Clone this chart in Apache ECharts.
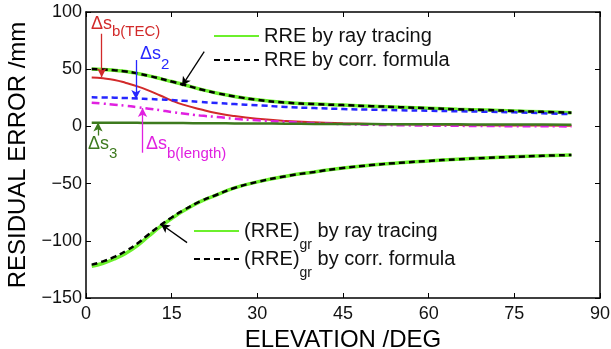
<!DOCTYPE html>
<html>
<head>
<meta charset="utf-8">
<script src="https://cdn.jsdelivr.net/npm/echarts@6.0.0/dist/echarts.min.js"></script>
<style>
  html, body { margin: 0; padding: 0; background: #fff; }
  #main { width: 611px; height: 349px; }
</style>
</head>
<body>
<div id="main"></div>
<script>
// elevation angles (deg) where the curves were read
var elev = [1, 3, 5, 7, 9, 11, 13, 15, 17, 20, 23, 26, 30, 35, 40, 45, 50, 55, 60, 65, 70, 75, 80, 85];

var rreRay   = [50.2, 49.8, 49.0, 48.0, 46.3, 44.2, 41.8, 39.2, 36.6, 32.5, 29.0, 26.2, 23.2, 20.8, 19.5, 18.6, 17.7, 16.8, 15.9, 15.0, 14.3, 13.5, 12.7, 12.0];
var rreCorr  = [50.2, 49.8, 49.0, 48.0, 46.3, 44.2, 41.8, 39.2, 36.6, 32.5, 29.0, 26.2, 23.2, 20.8, 19.5, 18.6, 17.7, 16.8, 15.9, 15.0, 14.3, 13.5, 12.7, 12.0];
var dsTEC    = [42.8, 42.0, 40.6, 38.0, 35.0, 31.3, 27.0, 22.6, 19.0, 15.0, 11.5, 9.0, 6.7, 4.8, 3.6, 2.8, 2.2, 1.8, 1.5, 1.2, 1.0, 0.8, 0.7, 0.6];
var ds2      = [25.4, 25.3, 25.1, 24.8, 24.4, 24.0, 23.5, 23.0, 22.4, 21.4, 20.4, 19.5, 18.5, 17.0, 16.0, 15.2, 14.6, 14.1, 13.7, 13.2, 12.8, 12.3, 11.5, 10.6];
var dsLength = [20.7, 19.9, 19.0, 18.0, 16.8, 15.5, 14.1, 12.6, 11.3, 9.5, 8.2, 6.7, 5.3, 3.9, 2.8, 2.0, 1.4, 1.0, 0.7, 0.5, 0.3, 0.2, 0.1, 0.0];
var ds3      = [3.2, 3.2, 3.2, 3.1, 3.1, 3.0, 3.0, 2.9, 2.9, 2.8, 2.7, 2.6, 2.5, 2.4, 2.2, 2.1, 2.0, 1.9, 1.8, 1.8, 1.7, 1.6, 1.6, 1.5];
var grRay    = [-122.2, -119.6, -115.8, -110.8, -104.2, -95.8, -87.7, -80.5, -74.0, -65.8, -59.6, -53.8, -48.5, -43.5, -39.8, -36.4, -33.8, -31.8, -30.2, -28.8, -27.6, -26.6, -25.7, -25.0];
var grCorr   = [-120.8, -118.0, -114.0, -108.8, -102.3, -94.2, -86.5, -79.6, -73.4, -65.6, -59.5, -53.8, -48.5, -43.5, -39.8, -36.4, -33.8, -31.8, -30.2, -28.8, -27.6, -26.6, -25.7, -25.0];

var xTicks = { min: 0, max: 90, step: 15 };
var yTicks = { min: -150, max: 100, step: 50 };

function pairs(ys) {
  return elev.map(function (x, i) { return [x, ys[i]]; });
}

var FONT = 'Liberation Sans, Arial, Helvetica, sans-serif';
var LIME = '#6cf02c';

function arrow(color, from, to) {
  return {
    silent: true,
    symbol: ['none', 'arrow'],
    symbolSize: [7, 9],
    label: { show: false },
    lineStyle: { color: color, width: 1.3, type: 'solid' },
    animation: false,
    data: [[{ coord: from }, { coord: to }]]
  };
}

function minus(v) { return v < 0 ? '\u2212' + (-v) : String(v); }

function frameAxis(extra) {
  var a = {
    type: 'value',
    axisLine: { show: true, onZero: false, lineStyle: { color: '#000', width: 1.5 } },
    axisTick: { show: true, inside: true, length: 5, lineStyle: { color: '#000' } },
    splitLine: { show: false }
  };
  for (var k in extra) a[k] = extra[k];
  return a;
}

var myChart = echarts.init(document.getElementById('main'));
var option = {
  backgroundColor: '#fff',
  animation: false,
  grid: { left: 86, right: 11, top: 12, bottom: 51, outerBoundsMode: 'none' },
  legend: [{
    left: 208, top: 21,
    orient: 'vertical',
    itemWidth: 45, itemHeight: 14, itemGap: 4,
    selectedMode: false,
    itemStyle: { opacity: 0 },
    textStyle: { fontFamily: FONT, fontSize: 20, lineHeight: 20, color: '#111' },
    data: ['RRE by ray tracing', 'RRE by corr. formula']
  }, {
    left: 188, top: 205,
    orient: 'vertical',
    itemWidth: 45, itemHeight: 14, itemGap: -14,
    selectedMode: false,
    itemStyle: { opacity: 0 },
    formatter: function (name) { return name.replace('(RRE)gr', '(RRE){sub|gr}'); },
    textStyle: {
      fontFamily: FONT, fontSize: 20, lineHeight: 20, color: '#111',
      rich: { sub: { fontFamily: FONT, fontSize: 14, lineHeight: 20, padding: [28, 0, 0, 0], color: '#111' } }
    },
    data: ['(RRE)gr by ray tracing', '(RRE)gr by corr. formula']
  }],
  xAxis: [
    frameAxis({
      min: xTicks.min, max: xTicks.max, interval: xTicks.step,
      name: 'ELEVATION /DEG', nameLocation: 'middle', nameGap: 18,
      nameTextStyle: { fontFamily: FONT, fontSize: 24, color: '#000' },
      axisLabel: { fontFamily: FONT, fontSize: 18, color: '#111', margin: 7 }
    }),
    frameAxis({
      position: 'top', min: xTicks.min, max: xTicks.max, interval: xTicks.step,
      axisLabel: { show: false }
    })
  ],
  yAxis: [
    frameAxis({
      min: yTicks.min, max: yTicks.max, interval: yTicks.step,
      name: 'RESIDUAL ERROR /mm', nameLocation: 'middle', nameGap: 47,
      nameTextStyle: { fontFamily: FONT, fontSize: 24, color: '#000' },
      axisLabel: { fontFamily: FONT, fontSize: 18, color: '#111', margin: 4, formatter: minus }
    }),
    frameAxis({
      position: 'right', min: yTicks.min, max: yTicks.max, interval: yTicks.step,
      axisLabel: { show: false }
    })
  ],
  series: [
    {
      name: 'RRE by ray tracing', type: 'line', smooth: true, symbol: 'none',
      lineStyle: { color: LIME, width: 3.5 }, itemStyle: { color: LIME },
      data: pairs(rreRay), z: 2
    },
    {
      name: 'RRE by corr. formula', type: 'line', smooth: true, symbol: 'none',
      lineStyle: { color: '#000', width: 2.5, type: [6, 4] }, itemStyle: { color: '#000' },
      data: pairs(rreCorr), z: 3,
      markLine: arrow('#000', [20.7, 65.3], [16.8, 35.5])
    },
    {
      name: 'Δs b(TEC)', type: 'line', smooth: true, symbol: 'none',
      lineStyle: { color: '#d22a2a', width: 2 },
      data: pairs(dsTEC), z: 2,
      markLine: arrow('#d22a2a', [2.75, 81], [2.75, 43])
    },
    {
      name: 'Δs 2', type: 'line', smooth: true, symbol: 'none',
      lineStyle: { color: '#2626ff', width: 2.5, type: [6, 4] },
      data: pairs(ds2), z: 2,
      markLine: arrow('#2626ff', [8.75, 58], [8.75, 24])
    },
    {
      name: 'Δs b(length)', type: 'line', smooth: true, symbol: 'none',
      lineStyle: { color: '#e020e0', width: 2.5, type: [8, 4, 2, 4] },
      data: pairs(dsLength), z: 2,
      markLine: arrow('#e020e0', [9.9, -23], [9.9, 16])
    },
    {
      name: 'Δs 3', type: 'line', smooth: true, symbol: 'none',
      lineStyle: { color: '#3d7a1e', width: 2.5 },
      data: pairs(ds3), z: 2,
      markLine: arrow('#3d7a1e', [2.1, -8], [2.1, 3.5])
    },
    {
      name: '(RRE)gr by ray tracing', type: 'line', smooth: true, symbol: 'none',
      lineStyle: { color: LIME, width: 3.5 }, itemStyle: { color: LIME },
      data: pairs(grRay), z: 2
    },
    {
      name: '(RRE)gr by corr. formula', type: 'line', smooth: true, symbol: 'none',
      lineStyle: { color: '#000', width: 2.5, type: [6, 4] }, itemStyle: { color: '#000' },
      data: pairs(grCorr), z: 3,
      markLine: arrow('#000', [17.7, -101.6], [13.1, -85.3])
    }
  ],
  graphic: [
    {
      type: 'text', x: 91, y: 24,
      style: {
        text: '{m|Δs}{s|b(TEC)}', verticalAlign: 'middle', fill: '#d22a2a',
        rich: {
          m: { fontFamily: FONT, fontSize: 18, lineHeight: 18, fill: '#d22a2a' },
          s: { fontFamily: FONT, fontSize: 15, lineHeight: 18, padding: [16, 0, 0, 0], fill: '#d22a2a' }
        }
      }
    },
    {
      type: 'text', x: 140, y: 54,
      style: {
        text: '{m|Δs}{s|2}', verticalAlign: 'middle', fill: '#2626ff',
        rich: {
          m: { fontFamily: FONT, fontSize: 18, lineHeight: 18, fill: '#2626ff' },
          s: { fontFamily: FONT, fontSize: 15, lineHeight: 18, padding: [22, 0, 0, 0], fill: '#2626ff' }
        }
      }
    },
    {
      type: 'text', x: 88, y: 144,
      style: {
        text: '{m|Δs}{s|3}', verticalAlign: 'middle', fill: '#3d7a1e',
        rich: {
          m: { fontFamily: FONT, fontSize: 18, lineHeight: 18, fill: '#3d7a1e' },
          s: { fontFamily: FONT, fontSize: 15, lineHeight: 18, padding: [20, 0, 0, 0], fill: '#3d7a1e' }
        }
      }
    },
    {
      type: 'text', x: 146, y: 144,
      style: {
        text: '{m|Δs}{s|b(length)}', verticalAlign: 'middle', fill: '#e020e0',
        rich: {
          m: { fontFamily: FONT, fontSize: 18, lineHeight: 18, fill: '#e020e0' },
          s: { fontFamily: FONT, fontSize: 15, lineHeight: 18, padding: [20, 0, 0, 0], fill: '#e020e0' }
        }
      }
    }
  ]
};
myChart.setOption(option);
</script>
</body>
</html>
